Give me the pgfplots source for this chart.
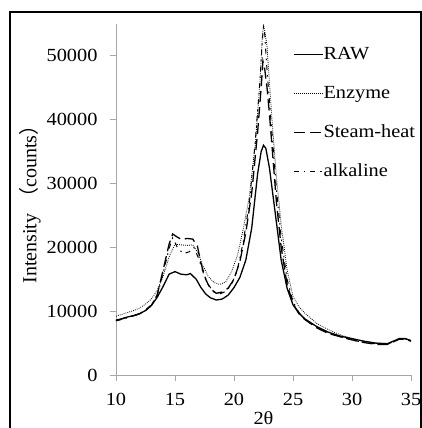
\documentclass[border=0pt]{standalone}
\usepackage{fontspec}
\setmainfont{Liberation Serif}[FakeStretch=1.1]
\newfontfamily\plainserif{Liberation Serif}
\newfontfamily\cjk{Noto Sans CJK SC}
\usepackage{pgfplots}
\pgfplotsset{compat=1.18}
\begin{document}
\begin{tikzpicture}[x=1pt,y=1pt]
\useasboundingbox (-116,-53) rectangle (306,375);
\begin{axis}[
  at={(0,0)}, anchor=south west,
  scale only axis, width=295pt, height=351pt,
  xmin=10, xmax=35, ymin=0, ymax=55000,
  xtick={10,15,...,35}, ytick={0,10000,...,50000},
  axis x line*=bottom, axis y line*=left,
  axis line style={draw=gray!70, line width=0.9pt, -},
  tick style={draw=gray!70, line width=0.9pt},
  tick align=outside, major tick length=6pt,
  scaled y ticks=false,
  /pgf/number format/assume math mode=true,
  /pgf/number format/set thousands separator={},
  tick label style={font=\fontsize{18.5}{20}\selectfont},
  xticklabel style={yshift=-9pt},
  yticklabel style={xshift=-9pt},
  xlabel={2θ}, xlabel style={font=\fontsize{18.5}{20}\selectfont, yshift=1pt},
  ylabel={Intensity\hspace{6pt}\makebox[1em][r]{\cjk（}counts\makebox[1em][l]{\cjk）}\hspace{6pt}},
  ylabel style={font=\fontsize{20}{22}\plainserif, yshift=-1pt},
  legend image code/.code={\draw[#1] (0pt,0pt) -- (29pt,0pt);},
  legend style={at={(rel axis cs:0.6,0.937)}, anchor=north west, draw=none, fill=none,
    inner sep=0pt, row sep=22pt, font=\fontsize{18.5}{20}\selectfont,
    nodes={inner sep=0pt, text height=13pt, text depth=4pt}},
  legend cell align=left,
]
\addplot[black, line width=1.3pt] coordinates {
(10,8600)(10.5,8800)(11,9100)(11.5,9300)(12,9600)(12.5,10100)(13,10900)(13.5,12200)(14,13900)(14.5,15800)(15,16200)(15.5,15800)(16,15700)(16.3,15900)(16.8,15000)(17.2,13700)(17.6,12700)(18,12100)(18.5,11750)(19,11900)(19.5,12500)(20,13700)(20.5,15300)(21,18000)(21.5,23000)(22,31500)(22.3,35000)(22.5,36000)(22.7,35500)(23,32500)(23.5,25300)(24,18000)(24.5,13600)(25,11000)(25.5,9700)(26,8800)(27,7600)(28,6700)(29,6100)(30,5700)(31,5300)(32,5000)(33,4900)(33.5,5300)(34,5700)(34.5,5700)(35,5400)
};
\addlegendentry{RAW}
\addplot[black, line width=0.8pt, dash pattern=on 0.8pt off 1.2pt] coordinates {
(10,9200)(10.5,9500)(11,9800)(11.5,10100)(12,10500)(12.5,11100)(13,11900)(13.5,13300)(14,15500)(14.5,18500)(15,20500)(15.5,20400)(16,20300)(16.5,20400)(17,19000)(17.3,17400)(17.8,15500)(18.3,14500)(18.8,14200)(19.3,14600)(19.8,16200)(20.3,18800)(20.8,23000)(21.3,28000)(21.8,36000)(22.2,46000)(22.4,53000)(22.5,54800)(22.6,54000)(22.8,51500)(23,46000)(23.3,38000)(23.6,31000)(24,23500)(24.5,16500)(25,12300)(25.5,10700)(26,9700)(27,8100)(28,7100)(29,6300)(30,5700)(31,5300)(32,5000)(33,4950)(33.5,5300)(34,5700)(34.5,5700)(35,5400)
};
\addlegendentry{Enzyme}
\addplot[black, line width=1.3pt, dash pattern=on 11pt off 5pt] coordinates {
(10,8500)(10.5,8800)(11,9100)(11.5,9300)(12,9600)(12.5,10100)(13,10900)(13.5,12600)(14,16500)(14.5,20500)(14.8,22100)(15.2,21600)(15.6,21200)(16,21400)(16.5,21300)(16.9,20200)(17.2,17500)(17.6,15000)(18,13500)(18.5,12800)(19,13000)(19.5,13600)(20,15000)(20.5,17800)(21,22300)(21.5,28500)(22,38000)(22.3,45000)(22.45,49200)(22.6,48000)(22.8,45000)(23,41000)(23.3,34000)(23.6,27000)(24,20000)(24.5,14200)(25,11200)(25.5,9600)(26,8700)(27,7400)(28,6500)(29,6000)(30,5500)(31,5100)(32,4800)(33,4800)(33.5,5200)(34,5600)(34.5,5600)(35,5300)
};
\addlegendentry{Steam-heat}
\addplot[black, line width=1pt, dash pattern=on 5pt off 5pt on 1.5pt off 5pt] coordinates {
(10,8500)(10.5,8700)(11,9000)(11.5,9300)(12,9600)(12.5,10200)(13,11000)(13.5,12500)(14,16000)(14.5,19800)(14.8,21500)(15.2,20000)(15.7,19000)(16.2,19300)(16.6,20000)(17,18300)(17.4,16000)(17.8,14200)(18.3,13000)(18.8,12700)(19.3,13100)(19.8,14200)(20.3,16600)(20.8,21000)(21.3,27000)(21.8,36500)(22.2,46000)(22.4,52500)(22.5,54500)(22.6,53500)(22.75,49000)(23,43000)(23.3,36000)(23.6,29000)(24,21500)(24.5,15000)(25,11500)(25.5,9800)(26,8800)(27,7500)(28,6600)(29,6000)(30,5500)(31,5100)(32,4900)(33,4850)(33.5,5200)(34,5600)(34.5,5700)(35,5400)
};
\addlegendentry{alkaline}
\end{axis}
\draw[black, line width=2.4pt] (-106,-70) -- (-106,363) -- (305,363) -- (305,-70);
\end{tikzpicture}
\end{document}
